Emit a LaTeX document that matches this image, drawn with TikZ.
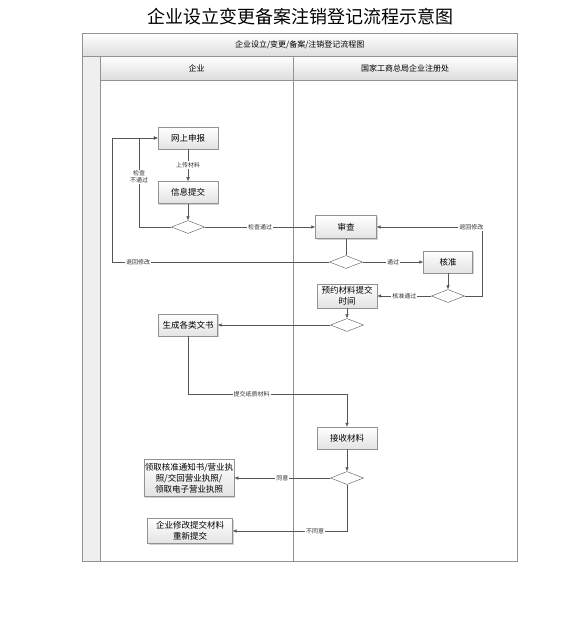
\documentclass[tikz,border=0pt]{standalone}
\usepackage{fontspec}
\setmainfont{Noto Sans CJK SC}
\usepackage{tikz}
\usetikzlibrary{arrows.meta,positioning,shapes.geometric,shadows}
\definecolor{linegray}{HTML}{555555}
\definecolor{framegray}{HTML}{929292}
\definecolor{headgray}{HTML}{DDDDDD}
\definecolor{stripgray}{HTML}{EFEFEF}
\newcommand{\boxfont}{\fontsize{8.5}{11}\selectfont}
\newcommand{\lblfont}{\fontsize{6}{7}\selectfont}

\begin{document}
\begin{tikzpicture}[
    x=1pt, y=-1pt,
    node distance=17pt and 20pt,
    hdr/.style={draw=framegray, top color=white, bottom color=headgray, anchor=north west, font=\fontsize{8}{9}\selectfont},
    lane/.style={draw=framegray, fill=white, anchor=north west},
    proc/.style={draw=framegray, top color=white, bottom color=gray!22, minimum width=60pt, minimum height=22pt, inner sep=2pt, align=center, font=\boxfont,
      drop shadow={shadow xshift=1.2pt, shadow yshift=-1.2pt, opacity=0.35, fill=gray}},
    dec/.style={diamond, draw=linegray, fill=white, aspect=2.5, minimum width=33pt, minimum height=13pt, inner sep=0pt},
    arr/.style={-{Latex[length=4pt,width=3.5pt]}, draw=linegray, line width=0.5pt},
    ln/.style={draw=linegray, line width=0.5pt},
    lbl/.style={fill=white, inner sep=1pt, align=center, font=\lblfont, text=black!80}
  ]
    \useasboundingbox (0,0) rectangle (581,628);

    % title and swimlanes
    \node[font=\fontsize{18}{20}\selectfont] (title) at (300,17) {企业设立变更备案注销登记流程示意图};
    \node[draw=framegray, fill=stripgray, anchor=north west, minimum width=18pt, minimum height=505pt] (strip) at (82,56) {};
    \node[hdr, minimum width=435pt, minimum height=23pt] (hdr) at (82,33) {企业设立/变更/备案/注销登记流程图};
    \node[hdr, minimum width=193pt, minimum height=24pt] (heada) at (100,56) {企业};
    \node[hdr, minimum width=224pt, minimum height=24pt] (headb) at (293,56) {国家工商总局企业注册处};
    \node[lane, minimum width=193pt, minimum height=481pt] (lanea) at (100,80) {};
    \node[lane, minimum width=224pt, minimum height=481pt] (laneb) at (293,80) {};

    % loop columns
    \coordinate (lpin) at (139,0);
    \coordinate (lpout) at (112,0);
    \coordinate (lpr) at (482,0);
    \coordinate (lpd) at (0,394);

    \node[proc] (wssb) at (188,138) {网上申报};
    \node[proc, below=32pt of wssb] (xxtj) {信息提交};
    \node[dec] (d1) at (188,227) {};

    \node[proc, minimum width=61pt, minimum height=23pt] (sc) at (346,227) {审查};
    \node[dec] (d2) at (346,262) {};
    \node[proc, minimum width=49pt] (hz) at (448,262) {核准};
    \node[dec] (d3) at (448,296) {};
    \node[proc, minimum height=24pt, inner sep=1pt] (yy) at (347,296) {预约材料提交\\时间};
    \node[dec] (d4) at (347,325) {};
    \node[proc, minimum width=59pt] (scws) at (188,325) {生成各类文书};

    \node[proc] (jssl) at (347,438) {接收材料};
    \node[dec] (d5) at (347,478) {};
    \node[proc, minimum width=87pt, minimum height=37pt, inner sep=1pt] (lq) at (189,478) {领取核准通知书/营业执\\照/交回营业执照/\\领取电子营业执照};
    \node[proc, minimum width=85pt, minimum height=25pt, inner sep=1pt] (xg) at (190,531) {企业修改提交材料\\重新提交};

    \draw[arr] (wssb) -- node[lbl]{上传材料} (xxtj);
    \draw[arr] (xxtj) -- (d1);
    \draw[arr] (d1.west) -| node[lbl, pos=0.78]{检查\\不通过} (lpin |- wssb.west) -- (wssb.west);
    \draw[arr] (d1.east) -- node[lbl]{检查通过} (sc.west);
    \draw[ln] (sc) -- (d2);
    \draw[arr] (d2.west) -- node[lbl, pos=0.88]{退回修改} (lpout |- d2.west) |- (wssb.west);
    \draw[arr] (d2.east) -- node[lbl]{通过} (hz.west);
    \draw[arr] (hz) -- (d3);
    \draw[arr] (d3.east) -| (lpr |- sc.east) -- node[lbl, pos=0.1]{退回修改} (sc.east);
    \draw[arr] (d3.west) -- node[lbl]{核准通过} (yy.east);
    \draw[arr] (yy) -- (d4);
    \draw[arr] (d4.west) -- (scws.east);
    \draw[arr] (scws.south) |- node[lbl, pos=0.7]{提交纸质材料} (jssl.north |- lpd) -- (jssl.north);
    \draw[arr] (jssl) -- (d5);
    \draw[arr] (d5.west) -- node[lbl]{同意} (lq.east);
    \draw[arr] (d5.south) |- node[lbl, pos=0.64]{不同意} (xg.east);
  \end{tikzpicture}
\end{document}
